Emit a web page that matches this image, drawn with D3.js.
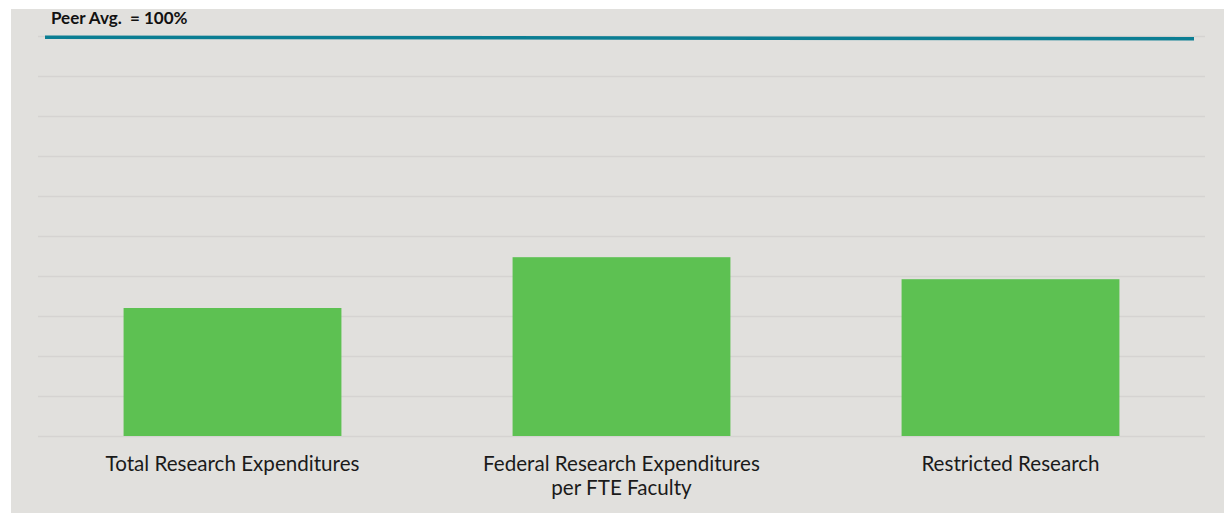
<!DOCTYPE html>
<html>
<head>
<meta charset="utf-8">
<script src="https://cdn.jsdelivr.net/npm/d3@7"></script>
<style>
  html, body { margin: 0; padding: 0; background: #ffffff; }
  svg { display: block; }
</style>
</head>
<body>
<div class="chart"></div>
<script>
// data
const categories = ["Total Research Expenditures", "Federal Research Expenditures\nper FTE Faculty", "Restricted Research"];
const values = [32, 44.7, 39.2];
const gridTicks = [0, 10, 20, 30, 40, 50, 60, 70, 80, 90, 100];
const peerLabel = "Peer Avg.  = 100%";
const peerPos = [0, 1];
const peerValues = [99.7, 99.3];

const W = 1224, H = 513;
const margin = {top: 36, left: 38, right: 19, bottom: 77};
const width = W - margin.left - margin.right;
const height = H - margin.top - margin.bottom;

const svg = d3.select(".chart").append("svg")
    .attr("width", W)
    .attr("height", H);

// panel background
svg.append("rect")
    .attr("x", 11)
    .attr("y", 9)
    .attr("width", W - 11)
    .attr("height", H - 9)
    .attr("fill", "#e1e0dd");

const g = svg.append("g")
    .attr("transform", "translate(" + margin.left + "," + margin.top + ")");

const xScale = d3.scaleBand()
    .domain(categories)
    .range([0, width])
    .paddingInner(0.44)
    .paddingOuter(0.22);

const yScale = d3.scaleLinear()
    .domain([0, 100])
    .range([height, 0]);

// gridlines
const yAxis = d3.axisLeft(yScale)
    .tickValues(gridTicks)
    .tickSize(-width)
    .tickFormat("");

g.append("g")
    .attr("class", "grid")
    .call(yAxis)
    .call(a => a.select(".domain").remove())
    .call(a => a.selectAll("line")
        .attr("stroke", "#d5d3d1")
        .attr("stroke-width", 1.5));

// bars
g.selectAll(".bar")
    .data(values)
    .enter()
    .append("rect")
    .attr("class", "bar")
    .attr("x", (d, i) => xScale(categories[i]))
    .attr("y", d => yScale(d))
    .attr("width", xScale.bandwidth())
    .attr("height", d => yScale(0) - yScale(d))
    .attr("fill", "#5dc152");

// category labels
const labels = g.selectAll(".cat")
    .data(categories)
    .enter()
    .append("text")
    .attr("class", "cat")
    .attr("x", d => xScale(d) + xScale.bandwidth() / 2)
    .attr("y", height + 35)
    .attr("text-anchor", "middle")
    .attr("font-family", "Lato, 'Open Sans', sans-serif")
    .attr("font-size", 20.6)
    .attr("fill", "#1a1a1a");

labels.selectAll("tspan")
    .data(d => d.split("\n"))
    .enter()
    .append("tspan")
    .attr("x", function() { return this.parentNode.getAttribute("x"); })
    .attr("dy", (d, i) => i === 0 ? 0 : 24)
    .text(d => d);

// peer average line
const xLine = d3.scaleLinear()
    .domain([0, 1])
    .range([7, width - 11]);

const line = d3.line()
    .x((d, i) => xLine(peerPos[i]))
    .y(d => yScale(d));

g.append("path")
    .datum(peerValues)
    .attr("d", line)
    .attr("fill", "none")
    .attr("stroke", "#0b7e93")
    .attr("stroke-width", 3.5);

svg.append("text")
    .attr("x", 51)
    .attr("y", 23.5)
    .attr("font-family", "Lato, 'Open Sans', sans-serif")
    .attr("font-weight", 700)
    .attr("font-size", 17)
    .attr("fill", "#111")
    .attr("xml:space", "preserve")
    .style("white-space", "pre")
    .text(peerLabel);
</script>
</body>
</html>
